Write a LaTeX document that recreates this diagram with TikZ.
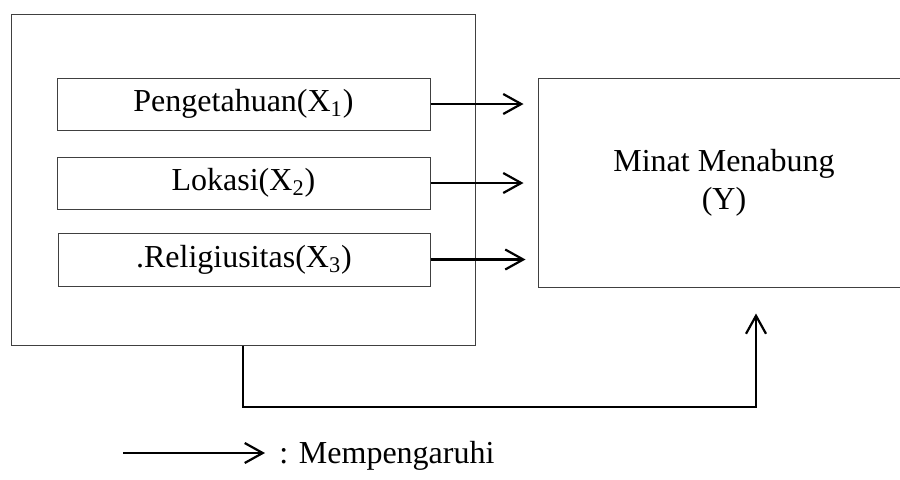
\documentclass[tikz,border=0pt]{standalone}
\usepackage{fontspec}
\setmainfont{Liberation Serif}
\usetikzlibrary{arrows.meta}
\begin{document}
\begin{tikzpicture}[x=0.5pt,y=-0.5pt,
        kotak/.style={draw=black!75, line width=0.5pt, inner sep=0pt},
        panah/.style={line width=1.1pt, -{Straight Barb[length=9pt,width=10pt,line width=1.1pt]}},
        font=\fontsize{16}{19}\selectfont]
    \useasboundingbox (0,0) rectangle (900,479);

    \node[kotak, minimum width=232pt, minimum height=165.5pt] (luar) at (243,179.5) {};
    \node[kotak, minimum width=186.5pt, minimum height=26pt] (x1) at (243.5,104) {Pengetahuan(X\textsubscript{1})};
    \node[kotak, minimum width=186.5pt, minimum height=26pt] (x2) at (243.5,183) {Lokasi(X\textsubscript{2})};
    \node[kotak, minimum width=186pt, minimum height=26.5pt] (x3) at (244,259.5) {.Religiusitas(X\textsubscript{3})};
    \node[kotak, minimum width=186pt, minimum height=104.5pt, align=center] (minat) at (724,182.5) {Minat Menabung\\(Y)};

    \draw[panah, shorten >=7pt] (x1.east) -- (x1.east -| minat.west);
    \draw[panah, shorten >=7pt] (x2.east) -- (x2.east -| minat.west);
    \draw[panah, shorten >=6pt] (x3.east) -- (x3.east -| minat.west);

    % garis balik ke Y
    \coordinate (balik) at (756,407);
    \draw[panah, shorten >=13pt] (luar.south) |- (balik) -- (balik |- minat.south);

    % keterangan
    \coordinate (ket) at (123,453);
    \node[anchor=west, inner sep=0pt] (ketlabel) at (279,456) {: Mempengaruhi};
    \draw[panah, shorten >=7pt] (ket) -- (ket -| ketlabel.west);
\end{tikzpicture}
\end{document}
